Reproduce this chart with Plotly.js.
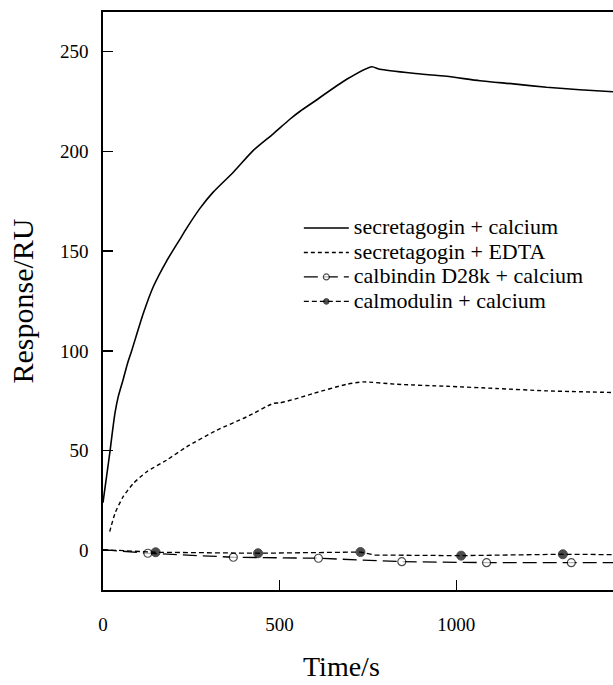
<!DOCTYPE html>
<html>
<head>
<meta charset="utf-8">
<script src="https://cdn.plot.ly/plotly-3.0.1.min.js"></script>
<style>html,body{margin:0;padding:0;background:#fff;}#chart{width:613px;height:685px;}</style>
</head>
<body>
<div id="chart"></div>
<script>
// secretagogin + calcium (solid)
var secCaTime = [0, 3, 10, 20, 27, 34, 43, 56, 69, 81, 114, 142, 180, 218, 237, 275, 312, 369, 425, 482, 529, 558, 595, 690, 761, 784, 878, 973, 1067, 1162, 1256, 1350, 1444];
var secCaResp = [24, 28, 37, 50, 60, 69, 77, 85, 93.5, 100, 118.7, 132, 145, 156, 161.5, 171.5, 179.5, 189.5, 200.3, 208.7, 216, 220, 224.5, 236, 242.3, 241, 239, 237.5, 235.3, 233.7, 232, 230.8, 229.8];

// secretagogin + EDTA (short dashes)
var secEdtaTime = [19, 34, 57, 86, 124, 180, 237, 322, 407, 482, 501, 553, 595, 690, 737, 832, 973, 1114, 1256, 1444];
var secEdtaResp = [9.5, 18.7, 27, 33.7, 39.5, 45.3, 52, 60.3, 67, 73.7, 74, 76.4, 78.7, 83.3, 84.5, 83.3, 82.3, 81.2, 80, 79.2];

// calbindin D28k + calcium (open circles, long dashes)
var calbTime = [0, 127, 369, 610, 846, 1086, 1326, 1444];
var calbResp = [0.5, -1.3, -3.3, -3.8, -5.5, -6, -6, -6];
var calbMarker = [0, 1, 1, 1, 1, 1, 1, 0];

// calmodulin + calcium (filled circles, short dashes)
var calmTime = [0, 149, 439, 729, 770, 1014, 1302, 1444];
var calmResp = [0.5, -0.8, -1.3, -0.7, -2.2, -2.5, -1.8, -2];
var calmMarker = [0, 1, 1, 1, 0, 1, 1, 0];

var seriesNames = ['secretagogin + calcium', 'secretagogin + EDTA', 'calbindin D28k + calcium', 'calmodulin + calcium'];
var xTicks = [0, 500, 1000];
var yTicks = [0, 50, 100, 150, 200, 250];
var xTitle = 'Time/s';
var yTitle = 'Response/RU';

var serif = 'Liberation Serif, Times New Roman, serif';
function lg(s){ return '<span style="font-size:22px">' + s + '</span>'; }

var traces = [
  {x: secCaTime, y: secCaResp, mode: 'lines', name: lg(seriesNames[0]),
   line: {color: '#000', width: 1.6, shape: 'spline', smoothing: 0.6}},
  {x: secEdtaTime, y: secEdtaResp, mode: 'lines', name: lg(seriesNames[1]),
   line: {color: '#000', width: 1.4, dash: '4px,3px', shape: 'spline', smoothing: 0.6}},
  {x: calbTime, y: calbResp, mode: 'lines+markers', name: lg(seriesNames[2]),
   line: {color: '#000', width: 1.3, dash: '14px,6px'},
   marker: {symbol: 'circle', size: calbMarker.map(function(m){return m ? 8 : 0;}), color: '#fff', line: {color: '#000', width: 1.2}}},
  {x: calmTime, y: calmResp, mode: 'lines+markers', name: lg(seriesNames[3]),
   line: {color: '#000', width: 1.3, dash: '5px,3px'},
   marker: {symbol: 'circle', size: calmMarker.map(function(m){return m ? 9 : 0;}), color: '#000', line: {color: '#000', width: 1}}}
];

var layout = {
  width: 613, height: 685,
  margin: {l: 103, r: 0, t: 12, b: 95, pad: 0},
  paper_bgcolor: '#fff', plot_bgcolor: '#fff',
  font: {family: serif, color: '#000'},
  showlegend: true,
  legend: {x: 0.384, y: 0.656, xanchor: 'left', yanchor: 'top', bgcolor: 'rgba(0,0,0,0)',
           borderwidth: 0, itemwidth: 45, font: {family: serif, size: 16.5, color: '#000'},
           tracegroupgap: 0},
  xaxis: {range: [0, 1444], tickvals: xTicks, ticktext: xTicks.map(String),
          ticks: 'inside', ticklen: 10, tickwidth: 1.2, tickcolor: '#000',
          showline: true, linewidth: 1.6, linecolor: '#000', mirror: true,
          showgrid: false, zeroline: false, ticklabelstandoff: 17,
          tickfont: {family: serif, size: 19, color: '#000'}},
  yaxis: {range: [-19.7, 269.7], tickvals: yTicks, ticktext: yTicks.map(String),
          ticks: 'inside', ticklen: 10, tickwidth: 1.2, tickcolor: '#000',
          showline: true, linewidth: 1.6, linecolor: '#000', mirror: false,
          showgrid: false, zeroline: false, ticklabelstandoff: 9,
          tickfont: {family: serif, size: 19, color: '#000'},
          title: {text: yTitle, font: {family: serif, size: 30, color: '#000'}, standoff: 17}},
  annotations: [
    {text: xTitle, xref: 'paper', yref: 'paper', x: 0.467, y: -0.1332,
     xanchor: 'center', yanchor: 'middle', showarrow: false, borderpad: 0,
     font: {family: serif, size: 28, color: '#000'}}
  ]
};

Plotly.newPlot('chart', traces, layout, {displayModeBar: false, staticPlot: true});
</script>
</body>
</html>
